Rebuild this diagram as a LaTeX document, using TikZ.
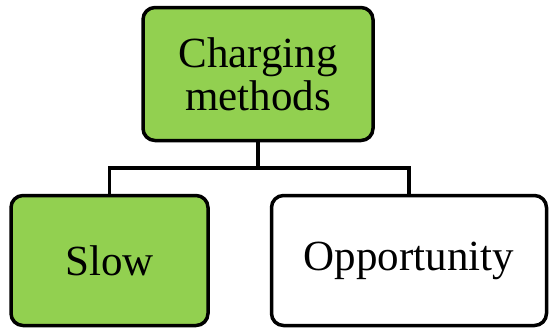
\documentclass[tikz,border=0pt]{standalone}
\usepackage{fontspec}
\setmainfont{Liberation Serif}
\usepackage{tikz}
\usetikzlibrary{calc}
\definecolor{leafgreen}{RGB}{146,208,80}

\begin{document}
\begin{tikzpicture} [x=1pt, y=-1pt,
    line width = 3.5pt,
    ]
        \tikzset{BoxStyle/.style = {draw = black, rounded corners = 12pt, align = center, inner sep = 0, font = \fontsize{43}{43}\selectfont}}
        \tikzset{link/.style = {draw, line width = 3.5pt}}
    \useasboundingbox (0,0) rectangle (549,330);
    \node[BoxStyle, fill = leafgreen, minimum width = 230pt, minimum height = 133pt] at (258,74) (top) {Charging\\methods};
    \node[BoxStyle, fill = leafgreen, minimum width = 197pt, minimum height = 130pt] at (109.5,260.5) (slow) {Slow};
    \node[BoxStyle, fill = white, minimum width = 275pt, minimum height = 130pt] at (409,260.5) (opp) {Opportunity};
    \coordinate (mid) at (258,168);

\path[link]
    (top.south) -- (mid) -| (slow.north)
    (mid) -| (opp.north);

\end{tikzpicture}
\end{document}
